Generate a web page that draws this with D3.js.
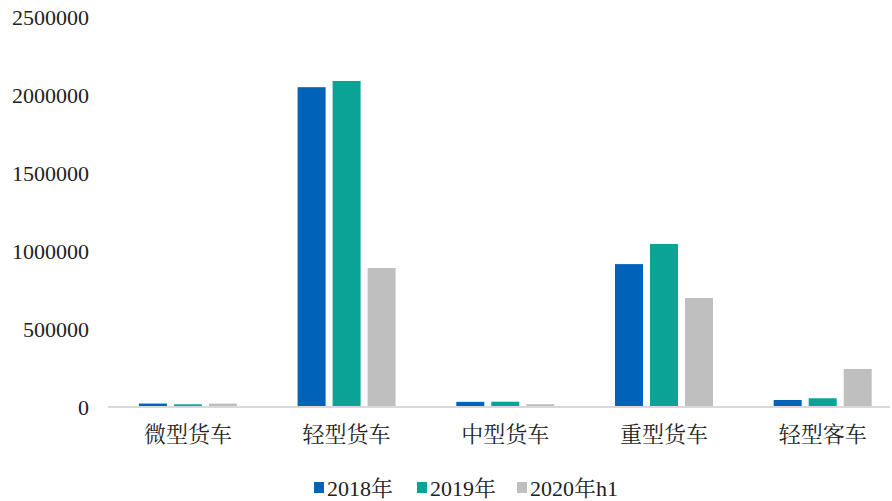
<!DOCTYPE html>
<html><head><meta charset="utf-8">
<script src="https://cdn.jsdelivr.net/npm/d3@7"></script>
<style>
body{margin:0;background:#fff;}
text{font-family:"Liberation Serif","Noto Serif CJK SC","Noto Sans CJK SC",serif;fill:#222;}
</style></head>
<body><svg id="c" width="892" height="501"></svg>
<script>
const categories = ["微型货车","轻型货车","中型货车","重型货车","轻型客车"];
const seriesNames = ["2018年","2019年","2020年h1"];
const s2018 = [22000, 2050000, 33000, 916000, 45000];
const s2019 = [17000, 2090000, 34000, 1045000, 56000];
const s2020h1 = [22000, 891000, 18000, 699000, 244000];
const yTicks = [0, 500000, 1000000, 1500000, 2000000, 2500000];
const colors = ["#0062B8", "#0AA396", "#BFBFBF"];

const series = [s2018, s2019, s2020h1];
const svg = d3.select("#c");
const x0 = d3.scaleBand().domain(categories).range([108.6, 902]).paddingInner(0.3825).paddingOuter(0.191);
const x1 = d3.scaleBand().domain(seriesNames).range([0, x0.bandwidth()]).paddingInner(0.2);
const y = d3.scaleLinear().domain([0, 2500000]).range([407, 17]);

// y axis labels
const yAxis = d3.axisLeft(y).tickValues(yTicks).tickSize(0).tickPadding(0).tickFormat(d3.format("d"));
const ya = svg.append("g").attr("transform", "translate(89,0)").call(yAxis);
ya.select(".domain").remove();
ya.selectAll("text").attr("font-size", 22).attr("font-family", null).attr("fill", "#222");

// bars
const groups = svg.append("g").selectAll("g").data(categories).join("g")
  .attr("transform", d => `translate(${x0(d)},0)`);
groups.selectAll("rect").data((d, i) => seriesNames.map((s, j) => ({s, v: series[j][i], j})))
  .join("rect")
  .attr("x", d => x1(d.s)).attr("width", x1.bandwidth())
  .attr("y", d => y(d.v)).attr("height", d => y(0) - y(d.v))
  .attr("fill", d => colors[d.j]);

// x axis
const xAxis = d3.axisBottom(x0).tickSize(0).tickPadding(19);
const xa = svg.append("g").attr("transform", `translate(0,${y(0)})`).call(xAxis);
xa.select(".domain").remove();
xa.append("line").attr("x1", 108).attr("x2", 890).attr("y1", 0).attr("y2", 0)
  .attr("stroke", "#d9d9d9").attr("stroke-width", 2);
xa.selectAll("text").attr("font-size", 22).attr("font-family", null).attr("fill", "#222");

// legend
const legendX = [314, 417, 517];
const lg = svg.append("g").selectAll("g").data(seriesNames).join("g")
  .attr("transform", (d, i) => `translate(${legendX[i]},488)`);
lg.append("rect").attr("x", 0).attr("y", -6).attr("width", 10).attr("height", 11).attr("fill", (d, i) => colors[i]);
lg.append("text").attr("x", 13).attr("y", 0).attr("dy", "0.35em").attr("font-size", 22).text(d => d);
</script></body></html>
